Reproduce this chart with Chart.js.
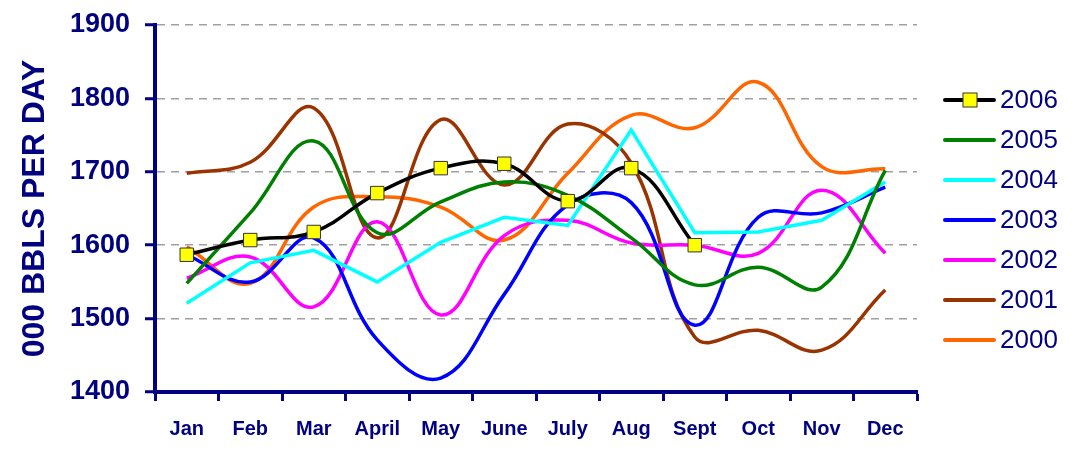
<!DOCTYPE html>
<html>
<head>
<meta charset="utf-8">
<script src="https://cdn.jsdelivr.net/npm/chart.js@4.4.0/dist/chart.umd.min.js"></script>
<style>
  html, body { margin: 0; padding: 0; background: #fff; }
  #wrap { width: 1078px; height: 450px; }
</style>
</head>
<body>
<div id="wrap"><canvas id="bblsChart"></canvas></div>
<script>
// ========================================
// BARRELS PER DAY — MONTHLY BY YEAR
// ========================================
const MONTHS = ["Jan", "Feb", "Mar", "April", "May", "June", "July", "Aug", "Sept", "Oct", "Nov", "Dec"];
const Y_TICKS = [1400, 1500, 1600, 1700, 1800, 1900];

const Y2006 = [1587, 1607, 1618, 1671, 1705, 1711, 1660, 1705, 1600];
const Y2005 = [1548, 1644, 1742, 1617, 1659, 1686, 1668, 1610, 1546, 1570, 1543, 1702];
const Y2004 = [1521, 1576, 1593, 1550, 1604, 1638, 1627, 1757, 1617, 1618, 1634, 1686];
const Y2003 = [1587, 1550, 1610, 1471, 1419, 1533, 1655, 1658, 1491, 1638, 1644, 1679];
const Y2002 = [1555, 1584, 1516, 1632, 1505, 1613, 1634, 1603, 1600, 1589, 1675, 1589];
const Y2001 = [1698, 1713, 1787, 1610, 1771, 1682, 1765, 1712, 1475, 1484, 1457, 1539];
const Y2000 = [1598, 1548, 1652, 1666, 1652, 1607, 1698, 1777, 1760, 1822, 1707, 1704];

const NAVY = "#000080";
const FONT = "'Liberation Sans', Arial, sans-serif";

const SERIES = [
  { label: "2006", data: Y2006, color: "#000000", marker: true, tension: 0.4 },
  { label: "2005", data: Y2005, color: "#008000", tension: 0.4 },
  { label: "2004", data: Y2004, color: "#00FFFF", tension: 0 },
  { label: "2003", data: Y2003, color: "#0000FF", tension: 0.4 },
  { label: "2002", data: Y2002, color: "#FF00FF", tension: 0.4 },
  { label: "2001", data: Y2001, color: "#993300", tension: 0.4 },
  { label: "2000", data: Y2000, color: "#FF6600", tension: 0.4 }
];

// Legend drawn at the right like the original (line sample + year)
const sideLegend = {
  id: "sideLegend",
  afterDraw(chart) {
    const ctx = chart.ctx;
    ctx.save();
    SERIES.forEach((s, i) => {
      const y = 100 + i * 40;
      ctx.strokeStyle = s.color;
      ctx.lineWidth = 4;
      ctx.lineCap = "round";
      ctx.beginPath();
      ctx.moveTo(945, y);
      ctx.lineTo(994, y);
      ctx.stroke();
      if (s.marker) {
        ctx.fillStyle = "#FFFF00";
        ctx.strokeStyle = "#333333";
        ctx.lineWidth = 1;
        ctx.fillRect(963, y - 7, 14, 14);
        ctx.strokeRect(963, y - 7, 14, 14);
      }
      ctx.fillStyle = NAVY;
      ctx.font = "26px " + FONT;
      ctx.textBaseline = "middle";
      ctx.textAlign = "left";
      ctx.fillText(s.label, 1000, y + 1);
    });
    ctx.restore();
  }
};

const ctx = document.getElementById("bblsChart").getContext("2d");

new Chart(ctx, {
  type: "line",
  data: {
    labels: MONTHS,
    datasets: SERIES.map(s => ({
      label: s.label,
      data: s.data,
      borderColor: s.color,
      backgroundColor: s.marker ? "#FFFF00" : s.color,
      borderWidth: 3.5,
      tension: s.tension,
      fill: false,
      pointStyle: "rect",
      pointRadius: s.marker ? 9.5 : 0,
      pointBorderColor: "#333333",
      pointBorderWidth: 1,
      pointBackgroundColor: "#FFFF00"
    }))
  },
  options: {
    animation: false,
    responsive: true,
    maintainAspectRatio: false,
    layout: { padding: { left: 0, right: 161, top: 25, bottom: 0 } },
    plugins: {
      legend: { display: false },
      tooltip: { enabled: false }
    },
    scales: {
      x: {
        offset: true,
        afterFit: scale => { scale.height = 58; },
        grid: {
          offset: true,
          drawOnChartArea: false,
          drawTicks: true,
          tickLength: 9,
          tickColor: NAVY,
          tickWidth: 3
        },
        border: { color: NAVY, width: 4 },
        ticks: {
          color: NAVY,
          padding: 16,
          maxRotation: 0,
          autoSkip: false,
          font: { family: FONT, size: 20, weight: "bold" }
        }
      },
      y: {
        min: 1400,
        max: 1900,
        afterFit: scale => {
          scale.width = 155;
          scale.paddingTop = 0;
          scale.paddingBottom = 0;
        },
        afterBuildTicks: scale => { scale.ticks = Y_TICKS.map(v => ({ value: v })); },
        grid: {
          color: "#A0A0A0",
          lineWidth: 1.5,
          tickLength: 10,
          tickColor: NAVY,
          tickWidth: 3
        },
        border: { color: NAVY, width: 4, dash: [8, 6] },
        ticks: {
          color: NAVY,
          padding: 15,
          callback: v => String(v),
          font: { family: FONT, size: 27, weight: "bold" }
        },
        title: {
          display: true,
          text: "000 BBLS PER DAY",
          color: NAVY,
          padding: { top: 16, bottom: 0 },
          font: { family: FONT, size: 32, weight: "bold" }
        }
      }
    }
  },
  plugins: [sideLegend]
});
</script>
</body>
</html>
